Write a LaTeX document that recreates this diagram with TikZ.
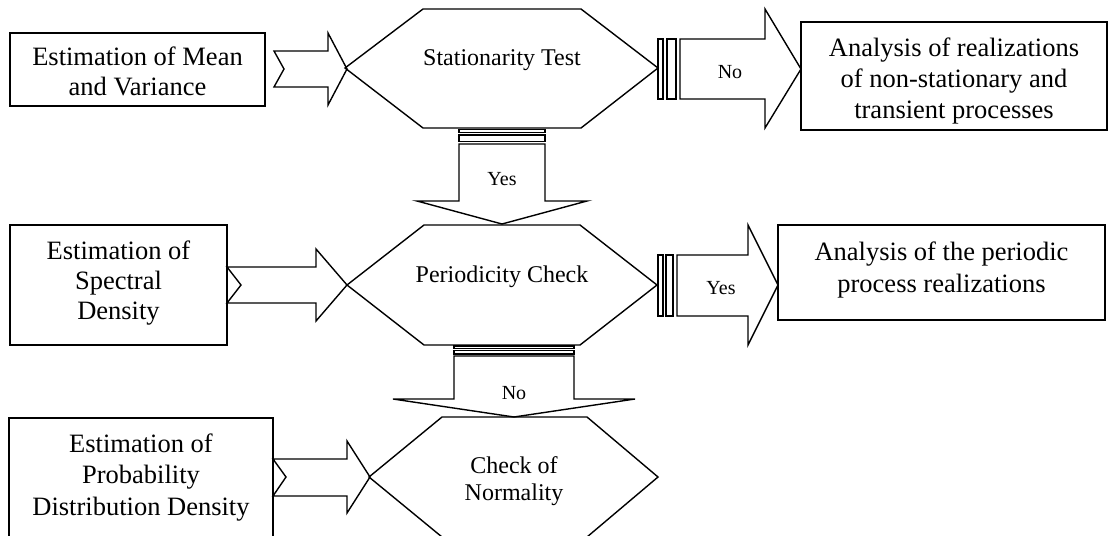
\documentclass[tikz,border=0pt]{standalone}
\usepackage{fontspec}
\setmainfont{Liberation Serif}
\newcommand\mlines[1]{\begin{tabular}[t]{@{}c@{}}#1\end{tabular}}
\begin{document}
\begin{tikzpicture}[x=1pt,y=-1pt,line width=1.4pt,line join=miter,
  box/.style={draw,line width=1.4pt,inner sep=0pt},
  outl/.style={draw,line width=1.4pt},
  bigtxt/.style={inner sep=0pt,anchor=base,font=\fontsize{26.5}{31}\selectfont},
  midtxt/.style={inner sep=0pt,anchor=base,font=\fontsize{24}{27}\selectfont},
  lbl/.style={inner sep=0pt,anchor=base,font=\fontsize{20}{22}\selectfont}]
\useasboundingbox (0,0) rectangle (1110,535);
\clip (0,0) rectangle (1110,535);

% ---------- left boxes ----------
\node[box,minimum width=255pt,minimum height=73pt] (mv) at (137.5,69.5) {};
\node[bigtxt] (mvt) at (137.5,65) {\mlines{Estimation of Mean\\and Variance}};

\node[box,minimum width=217pt,minimum height=120pt] (sd) at (118.5,285) {};
\node[bigtxt,font=\fontsize{26.5}{30}\selectfont] (sdt) at (118.5,259) {\mlines{Estimation of\\Spectral\\Density}};

\node[box,minimum width=264pt,minimum height=130pt] (pd) at (141,483) {};
\node[bigtxt,font=\fontsize{26.5}{31.5}\selectfont] (pdt) at (141,452) {\mlines{Estimation of\\Probability\\Distribution Density}};

% ---------- right boxes ----------
\node[box,minimum width=306pt,minimum height=108pt] (ns) at (954,76) {};
\begin{scope}
  \clip (801,22) rectangle (1107,123.5);
  \node[bigtxt] (nst) at (954,56.7) {\mlines{Analysis of realizations\\of non-stationary and\\transient processes}};
\end{scope}

\node[box,minimum width=327pt,minimum height=95pt] (pp) at (941.5,272.5) {};
\node[bigtxt,font=\fontsize{26.5}{32}\selectfont] (ppt) at (941.5,260) {\mlines{Analysis of the periodic\\process realizations}};

% ---------- hexagons ----------
\coordinate (h1) at (502,68);
\draw[outl] (345,68) -- (423,9) -- (581,9) -- (658,68) -- (581,128) -- (423,128) -- cycle;
\node[midtxt] (h1t) at (502,65) {Stationarity Test};

\coordinate (h2) at (502,285);
\draw[outl] (347,285) -- (424,225) -- (580,225) -- (657,285) -- (580,345) -- (424,345) -- cycle;
\node[midtxt] (h2t) at (502,282) {Periodicity Check};

\coordinate (h3) at (513.5,477);
\draw[outl] (369,477) -- (442,417) -- (587,417) -- (658,477) -- (587,537) -- (442,537) -- cycle;
\node[midtxt] (h3t) at (514,473) {\mlines{Check of\\Normality}};

% ---------- notched input arrows ----------
\draw[outl] (274,51) -- (328,51) -- (328,33) -- (347,69) -- (328,105) -- (328,87) -- (274,87) -- (284,69) -- cycle;
\draw[outl] (227,267) -- (316,267) -- (316,249) -- (347,285) -- (316,321) -- (316,303) -- (227,303) -- (241,285) -- cycle;
\draw[outl] (273,459) -- (347,459) -- (347,441) -- (370,477) -- (347,513) -- (347,496) -- (273,496) -- (286,477) -- cycle;

% ---------- right arrow "No" ----------
\draw[outl] (658,39) rectangle (663,99);
\draw[outl] (667,39) rectangle (676,99);
\draw[outl] (680,39) -- (765,39) -- (765,9) -- (801,69) -- (765,128) -- (765,99) -- (680,99) -- cycle;
\node[lbl] (no1) at (730,78) {No};

% ---------- right arrow "Yes" ----------
\draw[outl] (658,255) rectangle (663,316);
\draw[outl] (666,255) rectangle (673,316);
\draw[outl] (677,255) -- (748,255) -- (748,225) -- (778,285) -- (748,345) -- (748,316) -- (677,316) -- cycle;
\node[lbl] (yes2) at (721,294) {Yes};

% ---------- down arrow "Yes" ----------
\draw[outl] (459,129.3) rectangle (545,132.3);
\draw[outl] (459,135) rectangle (545,141.7);
\draw[outl] (459,144) -- (459,201) -- (417,201) -- (502,224) -- (587,201) -- (545,201) -- (545,144) -- cycle;
\node[lbl] (yes1) at (502,185) {Yes};

% ---------- down arrow "No" ----------
\draw[outl] (454,346) rectangle (574,348.5);
\draw[outl] (454,350.5) rectangle (574,354);
\draw[outl] (454,356) -- (454,399) -- (393,399) -- (514,417) -- (635,399) -- (574,399) -- (574,356) -- cycle;
\node[lbl] (no2) at (514,399) {No};
\end{tikzpicture}
\end{document}
